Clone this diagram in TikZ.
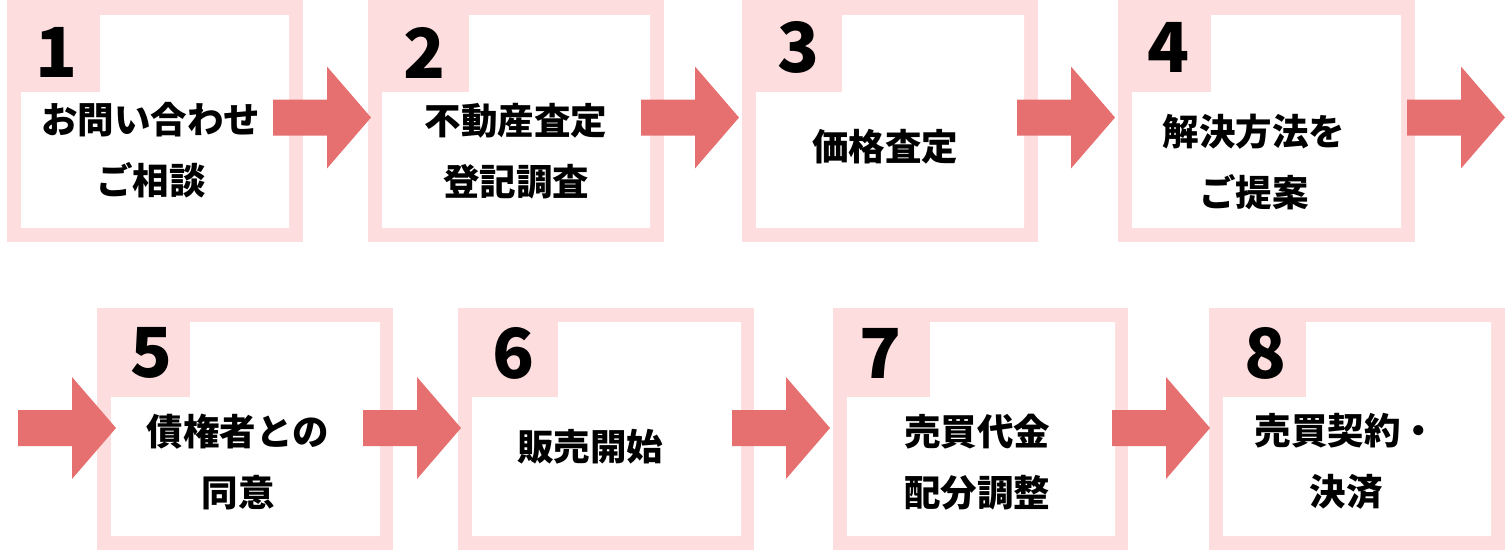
\documentclass[tikz,border=0pt]{standalone}
\usepackage{fontspec}
\usetikzlibrary{calc}
\newfontfamily\jp{Noto Sans CJK JP}[BoldFont={Noto Sans CJK JP Black}]
\definecolor{boxpink}{HTML}{FDDDDD}
\definecolor{arrowred}{HTML}{E67070}
\begin{document}
\begin{tikzpicture}[x=1pt,y=-1pt,
  numlabel/.style={font={\jp\bfseries\fontsize{69}{69}\selectfont}, inner sep=0pt, anchor=center},
  steplabel/.style={font={\jp\bfseries\fontsize{36.5}{61}\selectfont}, align=center, inner sep=0pt, anchor=center},
  blockarrow/.style={fill=arrowred}]
\useasboundingbox (0,0) rectangle (1505,550);
% boxes: outerL/outerR/innerL/innerR/tabR/outerT/outerB/innerT/innerB/tabB
\foreach \oL/\oR/\iL/\iR/\tR/\oT/\oB/\iT/\iB/\tB in {
  7/303/21/289/100/0/242/15/228/92,
  368/664/382/650/469/0/242/15/228/92,
  742/1038/756/1024/842/0/242/15/228/92,
  1118/1415/1132/1401/1211/0/242/15/228/92,
  97/393/111/380/190/308/550/322/536/397,
  458/754/472/741/558/308/550/322/536/397,
  833/1128/847/1115/930/308/550/322/536/397,
  1209/1505/1223/1491/1306/308/550/322/536/397}{
  \fill[boxpink] (\oL,\oT) rectangle (\oR,\oB);
  \fill[white] (\tR,\iT) -- (\iR,\iT) -- (\iR,\iB) -- (\iL,\iB) -- (\iL,\tB) -- (\tR,\tB) -- cycle;
}
% numbers
\node[numlabel] (n1) at (57,52) {1};
\node[numlabel] (n2) at (425,53) {2};
\node[numlabel] (n3) at (799,47) {3};
\node[numlabel] (n4) at (1168,47) {4};
\node[numlabel] (n5) at (152,353) {5};
\node[numlabel] (n6) at (514,353) {6};
\node[numlabel] (n7) at (881,353) {7};
\node[numlabel] (n8) at (1265,353) {8};
% step texts
\node[steplabel] (s1) at (151,150.5) {お問い合わせ\\ご相談};
\node[steplabel] (s2) at (516,151) {不動産査定\\登記調査};
\node[steplabel] (s3) at (885,147) {価格査定};
\node[steplabel] (s4) at (1254,161.5) {解決方法を\\ご提案};
\node[steplabel] (s5) at (238,462.5) {債権者との\\同意};
\node[steplabel] (s6) at (590,447) {販売開始};
\node[steplabel] (s7) at (977,462.5) {売買代金\\配分調整};
\node[steplabel] (s8) at (1346,461.5) {売買契約・\\決済};
% block arrows: start x / centre y
\foreach \x/\y/\nm in {273/117.5/a1, 641/117.5/a2, 1017/117.5/a3, 1407/117.5/a4,
                       18/428/a5, 363/428/a6, 732/428/a7, 1112/428/a8}{
  \coordinate (\nm) at (\x,\y);
  \fill[blockarrow] ($(\nm)+(0,-18)$) -- ++(54,0) -- ($(\nm)+(54,-51)$) -- ($(\nm)+(98,0)$)
     -- ($(\nm)+(54,51)$) -- ($(\nm)+(54,18)$) -- ($(\nm)+(0,18)$) -- cycle;
}
\end{tikzpicture}
\end{document}
